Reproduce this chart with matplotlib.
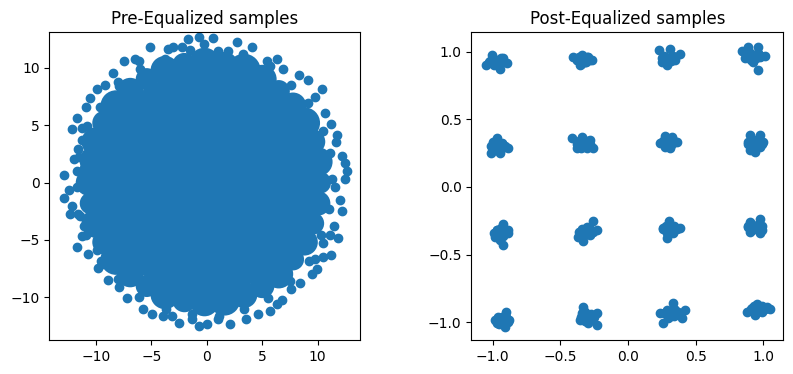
import matplotlib
matplotlib.use("Agg")
import matplotlib.pyplot as plt

# Pre-equalized samples: the solid middle of the cloud is drawn with a few big
# markers (radius in data units), the ragged rim with normal markers
pre_core_i = [-0.2,
              10.2, 10.04, 9.58, 8.81, 7.77, 6.49, 5.0, 3.36, 1.61,
              -0.2, -2.01, -3.76, -5.4, -6.89, -8.17, -9.21, -9.98, -10.44,
              -10.6, -10.44, -9.98, -9.21, -8.17, -6.89, -5.4, -3.76, -2.01,
              -0.2, 1.61, 3.36, 5.0, 6.49, 7.77, 8.81, 9.58, 10.04]
pre_core_q = [0.0,
              0.0, 1.81, 3.56, 5.2, 6.69, 7.97, 9.01, 9.78, 10.24,
              10.4, 10.24, 9.78, 9.01, 7.97, 6.69, 5.2, 3.56, 1.81,
              0.0, -1.81, -3.56, -5.2, -6.69, -7.97, -9.01, -9.78, -10.24,
              -10.4, -10.24, -9.78, -9.01, -7.97, -6.69, -5.2, -3.56, -1.81]
pre_core_r = [10.0,
              1.0, 1.3, 1.1, 1.4, 1.2, 1.0, 1.3, 1.5, 1.2,
              1.4, 1.1, 1.3, 1.0, 1.2, 1.4, 1.1, 1.3, 1.0,
              1.2, 1.0, 1.3, 1.1, 1.4, 1.2, 1.0, 1.3, 1.1,
              1.3, 1.4, 1.2, 1.1, 1.3, 1.0, 1.2, 1.0, 1.1]

pre_edge_i = [-0.66, 0.6, -1.7, -0.24, -5.1, -3.45, -3.0, -2.25, 2.7, 4.05, 1.95, 5.4, 6.3, 6.85,
              8.3, 9.16, 10.36, 9.76, 10.66, 11.17, 11.7, 11.65, 12.16, 12.46, 12.6, 12.46, 11.56,
              12.0, 12.16, 11.5, 11.86, 11.1, 10.5, 11.2, 10.5, 9.76, 9.9, 9.46, 8.4, 7.6, 6.76,
              6.3, 5.7, 4.65, 3.54, 2.1, 1.05, 0.0, -0.66, -1.35, -2.46, -3.15, -3.96, -4.95, -5.7,
              -7.2, -7.9, -8.86, -9.76, -9.46, -10.66, -9.9, -11.65, -11.26, -11.05, -11.4, -12.3,
              -12.16, -12.85, -12.4, -12.9, -11.7, -12.0, -11.56, -11.26, -12.16, -11.7, -11.26,
              -10.5, -9.85, -9.16, -8.4, -7.45, -6.46, -6.07, -7.96, -10.87, -10.87, -11.1, -10.87,
              -10.36,
              11.3, 11.1, 10.5, 9.1, 7.6, 5.7, 3.3, 1.0, -1.5, -3.8, -6.0, -7.9, -9.6, -10.8, -11.5,
              -11.7, -11.6, -10.9, -9.5, -8.0, -6.1, -3.7, -1.3, 1.1, 3.4, 5.5, 7.5, 9.2, 10.3, 11.0]
pre_edge_q = [12.7, 12.6, 12.5, 12.1, 11.8, 11.65, 11.86, 11.86, 12.25, 11.86, 11.44, 10.6, 10.75,
              9.94, 9.4, 8.95, 8.2, 7.5, 6.1, 5.14, 4.14, 3.54, 2.34, 1.74, 0.99, 0.3, -0.36, -1.56,
              -2.46, -3.75, -4.86, -4.56, -5.3, -6.3, -6.45, -6.67, -7.57, -8.0, -8.77, -9.3, -10.27,
              -10.57, -11.17, -11.47, -11.9, -12.37, -11.9, -12.37, -12.5, -11.9, -12.28, -11.6,
              -11.6, -11.47, -11.0, -10.1, -9.07, -8.47, -7.42, -7.12, -6.2, -5.9, -5.6, -4.65, -3.8,
              -2.9, -2.76, -2.07, -1.35, -0.66, 0.69, 0.99, 2.04, 2.94, 3.69, 4.65, 5.65, 4.74, 7.36,
              8.2, 8.5, 9.55, 10.6, 10.75, 10.6, 8.8, 6.55, 2.5, 1.3, -0.5, -4.1,
              0.3, 2.6, 4.5, 6.9, 8.5, 10.2, 11.2, 11.5, 11.6, 10.8, 9.9, 8.4, 6.6, 4.9, 2.2,
              -0.4, -2.7, -4.6, -6.8, -8.4, -10.0, -11.0, -11.5, -11.6, -11.0, -10.1, -8.6, -6.8, -4.6, -2.3]

# Post-equalized samples: 16-QAM clusters, rim points
post_i = [-1.049, -1.007, -0.983, -0.946, -0.921, -0.897, -0.958, -1.025,
          -0.404, -0.342, -0.293, -0.268, -0.355, -0.379, -0.318,
          0.232, 0.261, 0.310, 0.384, 0.286, 0.310, 0.347, 0.249,
          0.840, 0.889, 0.963, 1.012, 0.963, 0.926, 0.865, 0.901, 0.975, 0.877,
          -0.970, -1.015, -0.983, -0.933, -0.884, -0.946, -0.995,
          -0.416, -0.342, -0.281, -0.256, -0.305, -0.379, -0.367, -0.318,
          0.236, 0.273, 0.323, 0.365, 0.310, 0.273, 0.300,
          0.901, 0.975, 1.000, 0.975, 0.901, 0.938, 0.889, 0.938,
          -0.921, -0.970, -0.884, -0.983, -0.946, -0.926, -0.946, -0.935,
          -0.261, -0.232, -0.305, -0.342, -0.367, -0.335, -0.281, -0.300,
          0.305, 0.261, 0.384, 0.286, 0.335, 0.323, 0.300,
          0.901, 0.975, 0.988, 0.901, 0.938, 0.975, 0.889, 0.950,
          -0.901, -0.958, -0.884, -0.970, -0.911, -0.933, -0.920,
          -0.335, -0.232, -0.355, -0.293, -0.232, -0.283, -0.318, -0.342, -0.300,
          0.330, 0.261, 0.236, 0.421, 0.397, 0.310, 0.372, 0.298, 0.340,
          0.877, 0.938, 0.951, 1.025, 1.049, 0.988, 0.914, 0.960]
post_q = [0.901, 0.975, 0.938, 0.869, 0.951, 0.919, 0.914, 0.926,
          0.958, 0.975, 0.963, 0.938, 0.901, 0.938, 0.926,
          1.012, 0.958, 1.017, 0.983, 0.901, 0.938, 0.938, 0.926,
          1.007, 1.037, 1.037, 0.968, 0.865, 0.926, 0.951, 0.988, 0.963, 0.988,
          0.360, 0.249, 0.298, 0.323, 0.286, 0.249, 0.335,
          0.360, 0.372, 0.347, 0.286, 0.286, 0.286, 0.323, 0.335,
          0.328, 0.377, 0.372, 0.335, 0.286, 0.298, 0.330,
          0.384, 0.384, 0.335, 0.298, 0.273, 0.261, 0.335, 0.347,
          -0.273, -0.318, -0.318, -0.367, -0.392, -0.429, -0.342, -0.300,
          -0.249, -0.318, -0.293, -0.342, -0.372, -0.397, -0.355, -0.330,
          -0.249, -0.305, -0.305, -0.379, -0.342, -0.293, -0.320,
          -0.256, -0.236, -0.318, -0.330, -0.293, -0.342, -0.293, -0.290,
          -0.921, -0.970, -0.995, -1.007, -1.032, -0.958, -0.990,
          -0.884, -0.933, -0.983, -1.007, -1.020, -0.946, -0.921, -0.933, -0.960,
          -0.860, -1.002, -0.928, -0.909, -0.970, -0.928, -0.921, -0.970, -0.900,
          -0.921, -0.946, -0.865, -0.889, -0.904, -0.921, -0.897, -0.910]

# points filling the middle of each cluster
post_fill_i = [-1.00, -0.94, -0.99, -0.95, -0.36, -0.30, -0.35, -0.31,
               0.27, 0.33, 0.28, 0.32, 0.90, 0.96, 0.91, 0.95,
               -0.99, -0.93, -0.98, -0.94, -0.36, -0.30, -0.35, -0.31,
               0.27, 0.33, 0.28, 0.32, 0.91, 0.97, 0.92, 0.96,
               -0.97, -0.91, -0.96, -0.92, -0.34, -0.28, -0.33, -0.29,
               0.28, 0.34, 0.29, 0.33, 0.91, 0.97, 0.92, 0.96,
               -0.96, -0.90, -0.95, -0.91, -0.33, -0.27, -0.32, -0.28,
               0.29, 0.35, 0.30, 0.34, 0.93, 0.99, 0.94, 0.98,
               -0.97, -1.02, -0.92, -0.33, -0.38, -0.28, 0.30, 0.25, 0.35, 0.93, 0.88, 0.98,
               -0.96, -1.01, -0.91, -0.33, -0.38, -0.28, 0.30, 0.25, 0.35, 0.94, 0.89, 0.99,
               -0.94, -0.99, -0.89, -0.31, -0.36, -0.26, 0.31, 0.26, 0.36, 0.94, 0.89, 0.99,
               -0.93, -0.98, -0.88, -0.30, -0.35, -0.25, 0.32, 0.27, 0.37, 0.96, 0.91, 1.01]
post_fill_q = [0.95, 0.95, 0.90, 0.91, 0.96, 0.96, 0.91, 0.92,
               0.97, 0.97, 0.92, 0.93, 0.99, 0.99, 0.94, 0.95,
               0.32, 0.32, 0.27, 0.28, 0.34, 0.34, 0.29, 0.30,
               0.35, 0.35, 0.30, 0.31, 0.34, 0.34, 0.29, 0.30,
               -0.32, -0.32, -0.37, -0.36, -0.31, -0.31, -0.36, -0.35,
               -0.29, -0.29, -0.34, -0.33, -0.27, -0.27, -0.32, -0.31,
               -0.96, -0.96, -1.01, -1.00, -0.94, -0.94, -0.99, -0.98,
               -0.91, -0.91, -0.96, -0.95, -0.88, -0.88, -0.93, -0.92,
               0.93, 0.93, 0.93, 0.94, 0.94, 0.94, 0.95, 0.95, 0.95, 0.97, 0.97, 0.97,
               0.30, 0.30, 0.30, 0.32, 0.32, 0.32, 0.33, 0.33, 0.33, 0.32, 0.32, 0.32,
               -0.34, -0.34, -0.34, -0.33, -0.33, -0.33, -0.31, -0.31, -0.31, -0.29, -0.29, -0.29,
               -0.98, -0.98, -0.98, -0.96, -0.96, -0.96, -0.93, -0.93, -0.93, -0.90, -0.90, -0.90]

dpi = 100
fig = plt.figure(figsize=(7.93, 3.74), dpi=dpi)
ax1 = fig.add_axes([0.0622, 0.0901, 0.3922, 0.8235])
ax2 = fig.add_axes([0.5943, 0.0901, 0.3934, 0.8235])

ax1.set_xlim(-14.18, 13.84)
ax1.set_ylim(-13.75, 13.1)
ax1.set_xticks([-10, -5, 0, 5, 10])
ax1.set_yticks([-10, -5, 0, 5, 10])

# marker area for a circle of radius r in data units
px_per_unit = ax1.transData.transform((1, 0))[0] - ax1.transData.transform((0, 0))[0]
core_sizes = [(2 * r * px_per_unit * 72 / dpi) ** 2 for r in pre_core_r]
ax1.scatter(pre_core_i, pre_core_q, s=core_sizes, color="C0", linewidths=0)
ax1.scatter(pre_edge_i, pre_edge_q, color="C0")
ax1.set_title("Pre-Equalized samples")

ax2.scatter(post_i + post_fill_i, post_q + post_fill_q, color="C0")
ax2.set_xlim(-1.158, 1.148)
ax2.set_ylim(-1.133, 1.143)
ax2.set_xticks([-1.0, -0.5, 0.0, 0.5, 1.0])
ax2.set_yticks([-1.0, -0.5, 0.0, 0.5, 1.0])
ax2.set_title("Post-Equalized samples")

fig.savefig("out.png", dpi=dpi)
